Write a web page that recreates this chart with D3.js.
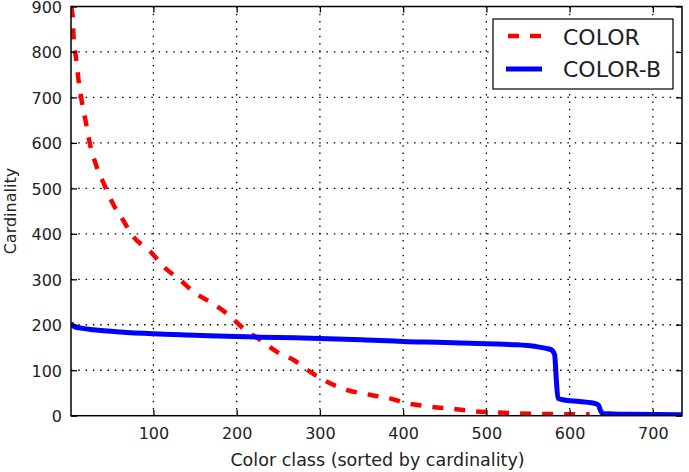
<!DOCTYPE html>
<html>
<head>
<meta charset="utf-8">
<script src="https://cdn.jsdelivr.net/npm/d3@7"></script>
<style>
  body { margin: 0; background: #fff; }
  svg { display: block; font-family: "DejaVu Sans", sans-serif; }
</style>
</head>
<body>
<div id="chart"></div>
<script>
// COLOR (red dashed)
const colorX = [1, 3, 4, 7, 10, 14, 19, 24, 31, 41, 52, 62, 75, 98, 112, 132, 150, 170, 190, 208, 228, 248, 268, 288, 308, 332, 360, 384, 406, 432, 460, 484, 508, 537, 561, 589, 624];
const colorY = [900, 880, 835, 787, 739, 691, 644, 596, 552, 508, 464, 435, 396, 358, 328, 299, 270, 248, 222, 192, 167, 141, 123, 97, 75, 57, 46, 38, 27, 20, 15, 10, 7.5, 5, 4, 3.5, 3];

// COLOR-B (blue solid)
const colorBX = [1, 5, 15, 28, 60, 100, 150, 200, 250, 300, 350, 400, 450, 500, 537, 560, 572, 578, 582, 584, 586, 592, 612, 632, 635, 637, 640, 672, 735];
const colorBY = [203, 196, 192, 189, 184, 180, 177, 174, 172, 170, 167, 163, 161, 158, 156, 152, 148, 145, 134, 80, 38, 35, 31, 26, 22, 12, 5, 3, 2];

const xTicks = [100, 200, 300, 400, 500, 600, 700];
const yTicks = [0, 100, 200, 300, 400, 500, 600, 700, 800, 900];

const width = 689;
const height = 472;
const plot = { left: 71, right: 682, top: 6.5, bottom: 415.7 };

const svg = d3.select('#chart')
    .append('svg')
    .attr('width', width)
    .attr('height', height);

const x = d3.scaleLinear().domain([1, 735]).range([plot.left, plot.right]);
const y = d3.scaleLinear().domain([0, 900]).range([plot.bottom, plot.top]);

// grid
const grid = svg.append('g').attr('stroke', '#000').attr('stroke-width', 1.3)
    .attr('stroke-dasharray', '1.5,5.8');
grid.selectAll('.gx').data(xTicks).join('line')
    .attr('x1', d => x(d)).attr('x2', d => x(d))
    .attr('y1', plot.top).attr('y2', plot.bottom);
grid.selectAll('.gy').data(yTicks.slice(1, -1)).join('line')
    .attr('x1', plot.left).attr('x2', plot.right)
    .attr('y1', d => y(d)).attr('y2', d => y(d));

// lines
svg.append('clipPath').attr('id', 'clip')
    .append('rect')
    .attr('x', plot.left).attr('y', plot.top - 3)
    .attr('width', plot.right - plot.left).attr('height', plot.bottom - plot.top + 3);

const line = d3.line().x(d => x(d[0])).y(d => y(d[1])).curve(d3.curveMonotoneX);

svg.append('path')
    .datum(colorX.map((v, i) => [v, colorY[i]]))
    .attr('clip-path', 'url(#clip)')
    .attr('fill', 'none')
    .attr('stroke', '#ff0000')
    .attr('stroke-width', 4.5)
    .attr('stroke-dasharray', '11,11')
    .attr('d', line);

svg.append('path')
    .datum(colorBX.map((v, i) => [v, colorBY[i]]))
    .attr('clip-path', 'url(#clip)')
    .attr('fill', 'none')
    .attr('stroke', '#0000ff')
    .attr('stroke-width', 5)
    .attr('stroke-linejoin', 'round')
    .attr('d', line);

// axes (classic style, ticks inward on all sides)
const xAxisB = d3.axisBottom(x).tickValues(xTicks).tickSizeInner(-6).tickSizeOuter(0).tickPadding(12);
const xAxisT = d3.axisTop(x).tickValues(xTicks).tickSizeInner(-6).tickSizeOuter(0).tickFormat('');
const yAxisL = d3.axisLeft(y).tickValues(yTicks).tickSizeInner(-6).tickSizeOuter(0).tickPadding(9);
const yAxisR = d3.axisRight(y).tickValues(yTicks).tickSizeInner(-6).tickSizeOuter(0).tickFormat('');

function styleAxis(g) {
    g.select('.domain').remove();
    g.selectAll('.tick line').attr('stroke', '#000').attr('stroke-width', 1.3);
    g.selectAll('.tick text').attr('fill', '#222').attr('font-size', 16)
        .attr('font-family', '"DejaVu Sans", sans-serif');
}

svg.append('g').attr('transform', `translate(0,${plot.bottom})`).call(xAxisB).call(styleAxis);
svg.append('g').attr('transform', `translate(0,${plot.top})`).call(xAxisT).call(styleAxis);
svg.append('g').attr('transform', `translate(${plot.left},0)`).call(yAxisL).call(styleAxis)
    .selectAll('.tick text').attr('dy', '0.37em');
svg.append('g').attr('transform', `translate(${plot.right},0)`).call(yAxisR).call(styleAxis);

// frame
svg.append('rect')
    .attr('x', plot.left).attr('y', plot.top)
    .attr('width', plot.right - plot.left).attr('height', plot.bottom - plot.top)
    .attr('fill', 'none').attr('stroke', '#000').attr('stroke-width', 1.5);

// axis labels
svg.append('text')
    .attr('x', (plot.left + plot.right) / 2 + 1).attr('y', 466)
    .attr('text-anchor', 'middle').attr('font-size', 17.5).attr('fill', '#222')
    .text('Color class (sorted by cardinality)');

svg.append('text')
    .attr('transform', `translate(16,${(plot.top + plot.bottom) / 2}) rotate(-90)`)
    .attr('text-anchor', 'middle').attr('font-size', 16).attr('fill', '#222')
    .text('Cardinality');

// legend
const legend = svg.append('g');
legend.append('rect')
    .attr('x', 493).attr('y', 19).attr('width', 180).attr('height', 70)
    .attr('fill', '#fff').attr('stroke', '#000').attr('stroke-width', 1.2);

legend.append('line')
    .attr('x1', 508).attr('x2', 542).attr('y1', 36).attr('y2', 36)
    .attr('stroke', '#ff0000').attr('stroke-width', 4.5).attr('stroke-dasharray', '11,11');
legend.append('line')
    .attr('x1', 506).attr('x2', 542).attr('y1', 69).attr('y2', 69)
    .attr('stroke', '#0000ff').attr('stroke-width', 5);

legend.selectAll('.lt').data(['COLOR', 'COLOR-B']).join('text')
    .attr('x', 563).attr('y', (d, i) => 45 + i * 32)
    .attr('font-size', 22).attr('fill', '#222')
    .text(d => d);
</script>
</body>
</html>
